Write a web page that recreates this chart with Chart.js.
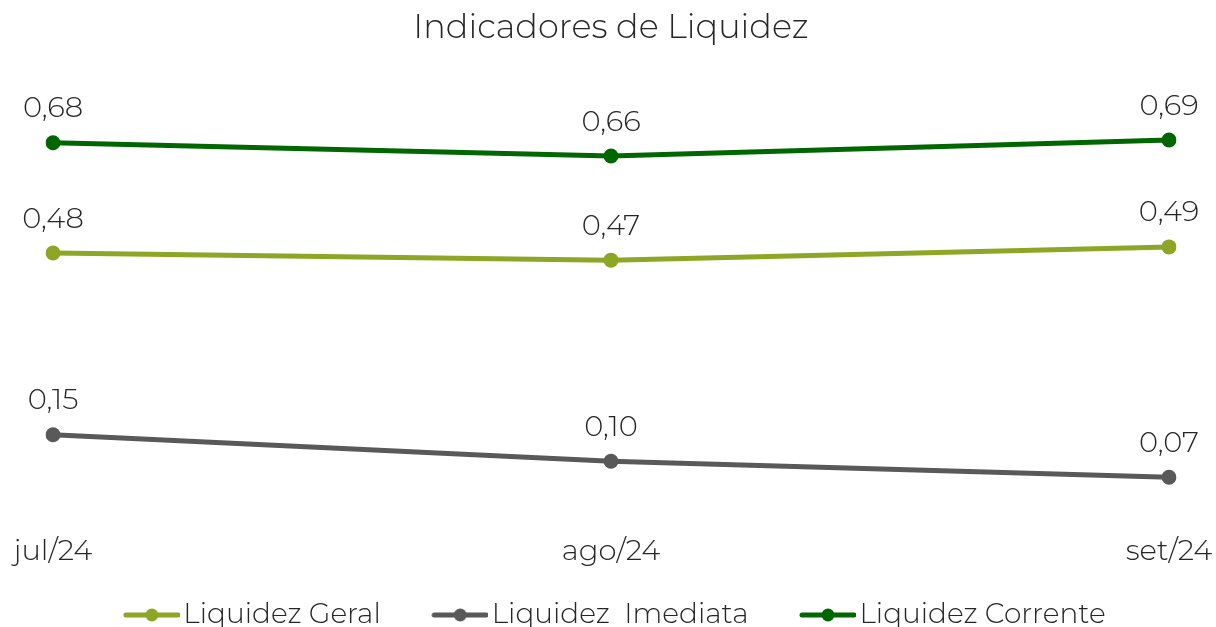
<!DOCTYPE html>
<html>
<head>
<meta charset="utf-8">
<script src="https://cdn.jsdelivr.net/npm/chart.js@4.4.0/dist/chart.umd.min.js"></script>
<style>
  html, body { margin: 0; padding: 0; background: #fff; }
  #wrap { width: 1216px; height: 627px; }
</style>
</head>
<body>
<div id="wrap"><canvas id="myChart" width="1216" height="627"></canvas></div>
<script>
const months = ['jul/24', 'ago/24', 'set/24'];
const liqGeral = [0.481, 0.468, 0.492];
const liqImediata = [0.151, 0.103, 0.074];
const liqCorrente = [0.681, 0.657, 0.686];

const FONT = "Montserrat, Inter, 'Open Sans', sans-serif";
const TEXT = '#262626';

// legend marker: line with a dot, drawn on a small canvas
function legendMarker(color) {
  const c = document.createElement('canvas');
  c.width = 108;
  c.height = 16;
  const g = c.getContext('2d');
  g.strokeStyle = color;
  g.lineWidth = 5;
  g.lineCap = 'round';
  g.beginPath();
  g.moveTo(54, 8);
  g.lineTo(106, 8);
  g.stroke();
  g.fillStyle = color;
  g.beginPath();
  g.arc(80, 8, 6.5, 0, Math.PI * 2);
  g.fill();
  return c;
}

// value labels above each point
const valueLabels = {
  id: 'valueLabels',
  afterLayout(chart) {
    // nudge legend left, the marker canvas has blank space on its left
    chart.legend.left -= 17;
    chart.legend.right -= 17;
  },
  afterDatasetsDraw(chart) {
    const ctx = chart.ctx;
    ctx.save();
    ctx.font = '300 29px ' + FONT;
    ctx.fillStyle = TEXT;
    ctx.textAlign = 'center';
    ctx.textBaseline = 'middle';
    chart.data.datasets.forEach((ds, i) => {
      chart.getDatasetMeta(i).data.forEach((pt, j) => {
        ctx.fillText(ds.data[j].toFixed(2).replace('.', ','), pt.x, pt.y - 34);
      });
    });
    ctx.restore();
  }
};

const mkSet = (label, data, color) => ({
  label: label,
  data: data,
  borderColor: color,
  backgroundColor: color,
  pointBackgroundColor: color,
  pointBorderColor: color,
  borderWidth: 5,
  pointRadius: 7.5,
  pointBorderWidth: 0,
  pointHoverRadius: 7.5,
  pointStyle: 'circle',
  tension: 0,
  marker: legendMarker(color)
});

const ctx = document.getElementById('myChart').getContext('2d');
const chart = new Chart(ctx, {
  type: 'line',
  data: {
    labels: months,
    datasets: [
      mkSet('Liquidez Geral', liqGeral, '#8DA625'),
      mkSet('Liquidez  Imediata', liqImediata, '#595959'),
      mkSet('Liquidez Corrente', liqCorrente, '#006600')
    ]
  },
  options: {
    responsive: false,
    animation: false,
    layout: { padding: { left: 53, right: 47, top: 0, bottom: -12 } },
    plugins: {
      title: {
        display: true,
        text: 'Indicadores de Liquidez',
        color: TEXT,
        font: { family: FONT, size: 33.5, weight: 300 },
        padding: { top: 8, bottom: 29 }
      },
      legend: {
        position: 'bottom',
        labels: {
          usePointStyle: true,
          pointStyleWidth: 87,
          color: TEXT,
          padding: 10,
          font: { family: FONT, size: 28, weight: 300 },
          generateLabels(chart) {
            return chart.data.datasets.map((ds, i) => ({
              text: ds.label,
              pointStyle: ds.marker,
              fillStyle: ds.borderColor,
              strokeStyle: ds.borderColor,
              lineWidth: 0,
              datasetIndex: i,
              hidden: false,
              fontColor: TEXT
            }));
          }
        }
      },
      tooltip: { enabled: false }
    },
    scales: {
      x: {
        offset: false,
        grid: { display: false },
        border: { display: false },
        ticks: { color: TEXT, padding: 8, font: { family: FONT, size: 29, weight: 300 } },
        afterFit(scale) {
          scale.height = 73;
          scale.paddingLeft = 0;
          scale.paddingRight = 0;
        }
      },
      y: {
        display: false,
        min: 0,
        max: 0.8
      }
    }
  },
  plugins: [valueLabels]
});
</script>
</body>
</html>
